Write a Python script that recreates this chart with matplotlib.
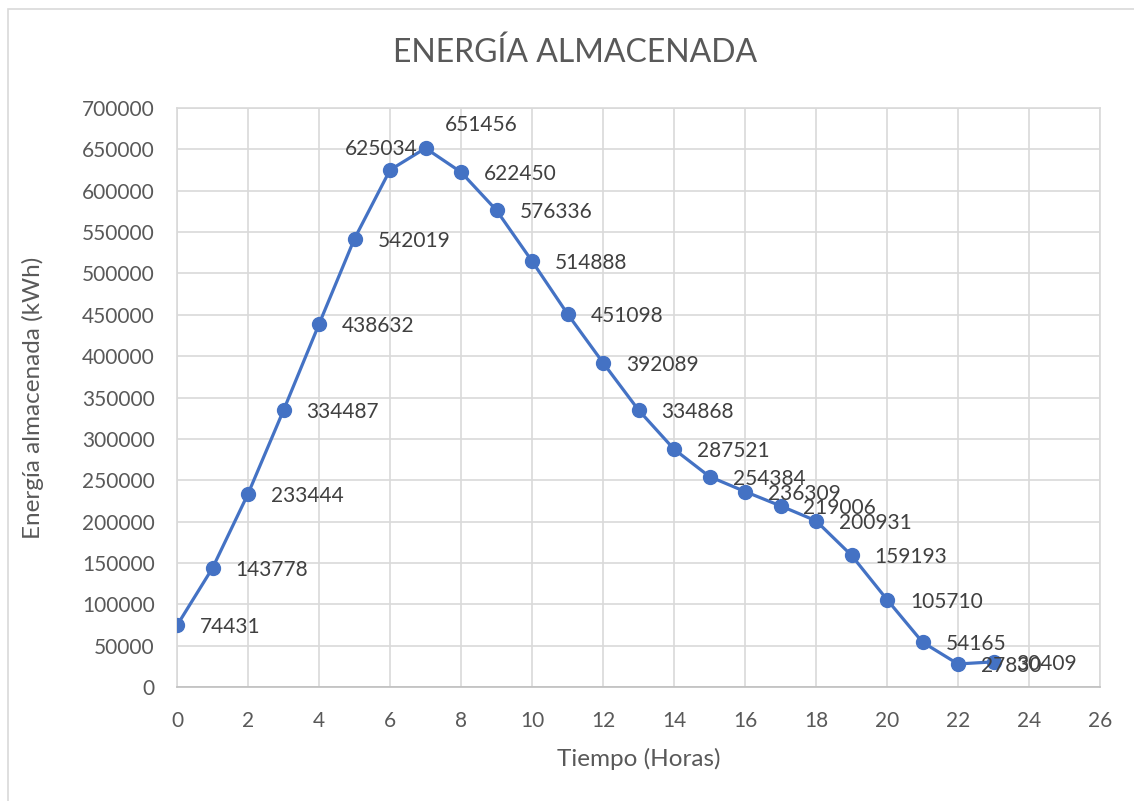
import matplotlib
matplotlib.use("Agg")
import matplotlib.pyplot as plt
from matplotlib.patches import Rectangle

# Stored energy per hour
horas = list(range(24))
energia = [74431, 143778, 233444, 334487, 438632, 542019, 625034, 651456,
           622450, 576336, 514888, 451098, 392089, 334868, 287521, 254384,
           236309, 219006, 200931, 159193, 105710, 54165, 27830, 30409]

titulo = "ENERGÍA ALMACENADA"
etiqueta_x = "Tiempo (Horas)"
etiqueta_y = "Energía almacenada (kWh)"

FONT = ["Lato", "DejaVu Sans"]
plt.rcParams["font.family"] = FONT

W, H = 1134, 801
fig = plt.figure(figsize=(W / 100, H / 100), dpi=100)

# light frame around the chart area
fig.patches.append(Rectangle((8 / W, -0.1), 1.2, 1 - 9 / H + 0.1,
                             transform=fig.transFigure, fill=False,
                             edgecolor="#d9d9d9", linewidth=1.2))

ax = fig.add_axes([177 / W, (H - 687) / H, 923 / W, 579 / H])
ax.set_xlim(0, 26)
ax.set_ylim(0, 700000)
ax.set_xticks(range(0, 27, 2))
ax.set_yticks(range(0, 700001, 50000))
ax.grid(True, color="#d9d9d9", linewidth=1.2)
ax.set_axisbelow(True)
for s in ax.spines.values():
    s.set_color("#d9d9d9")
    s.set_linewidth(1.2)
ax.spines["bottom"].set_color("#bfbfbf")
ax.tick_params(length=0, labelsize=15, labelcolor="#595959")
ax.tick_params(axis="y", pad=16)
ax.tick_params(axis="x", pad=17)

ax.plot(horas, energia, color="#4472C4", linewidth=2.3, marker="o",
        markersize=10, zorder=3)

# data labels: right of each point, a couple sit above
for h, v in zip(horas, energia):
    if h == 6:
        off, ha = (-9, 21), "center"
    elif h == 7:
        off, ha = (19, 23), "left"
    else:
        off, ha = (23, -2), "left"
    ax.annotate(f"{v}", (h, v), xytext=off, textcoords="offset pixels",
                ha=ha, va="center", fontsize=15, color="#404040", zorder=4)

fig.text(575 / W, 1 - 53 / H, titulo, ha="center", va="center",
         fontsize=23, color="#595959")
fig.text(639 / W, 1 - 759 / H, etiqueta_x, ha="center", va="center",
         fontsize=17.5, color="#595959")
fig.text(33 / W, 1 - 398 / H, etiqueta_y, ha="center", va="center",
         rotation=90, fontsize=17.5, color="#595959")

fig.savefig("out.png", dpi=100)
